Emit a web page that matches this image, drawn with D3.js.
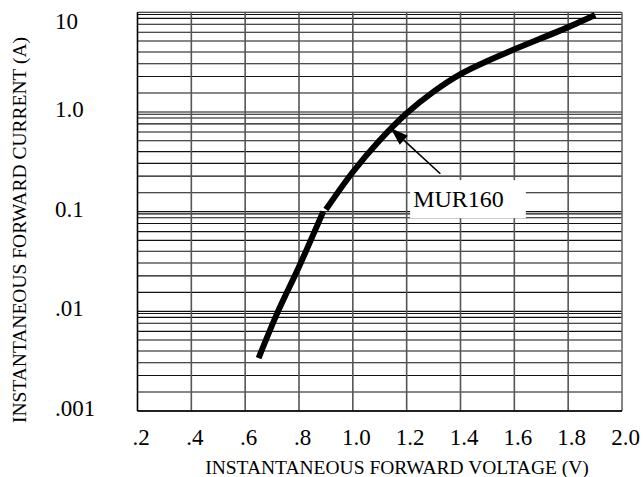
<!DOCTYPE html>
<html>
<head>
<meta charset="utf-8">
<script src="https://cdn.jsdelivr.net/npm/d3@7"></script>
<style>
body { margin: 0; background: #fff; }
text { font-family: "Liberation Serif", "Times New Roman", serif; fill: #000; }
</style>
</head>
<body>
<script>
// size of the page
var width = 643,
    height = 477;

// x ticks (volts) and the labels printed under them
var voltTicks = [0.2, 0.4, 0.6, 0.8, 1.0, 1.2, 1.4, 1.6, 1.8, 2.0];
var voltLabels = [".2", ".4", ".6", ".8", "1.0", "1.2", "1.4", "1.6", "1.8", "2.0"];

// y decades (amps) and their labels
var ampTicks = [10, 1, 0.1, 0.01, 0.001];
var ampLabels = ["10", "1.0", "0.1", ".01", ".001"];
// the rulings inside every decade, as they sit on the printed sheet
var decadeStarts = [0.001, 0.01, 0.1, 1];
var minorSteps = [1.55, 2.27, 3.05, 4.0, 5.15, 6.3, 7.6, 8.7, 9.5];

// MUR160 forward curve (two pieces, kink near 0.1 A)
var lowV = [0.65, 0.72, 0.80, 0.89];
var lowI = [0.0034, 0.0097, 0.028, 0.10];
var highV = [0.90, 1.0, 1.1, 1.2, 1.3, 1.4, 1.5, 1.6, 1.8, 1.9];
var highI = [0.105, 0.25, 0.52, 0.97, 1.6, 2.4, 3.25, 4.25, 7.1, 9.4];

// callout
var partName = "MUR160";
var arrowTip = [1.14, 0.69],
    arrowTail = [1.325, 0.24],
    labelAt = [1.224, 0.111];

var svg = d3.select("body").append("svg")
    .attr("width", width)
    .attr("height", height);

svg.append("rect").attr("width", width).attr("height", height).attr("fill", "#fff");

var x = d3.scaleLinear()
    .domain([0.2, 2.0])
    .range([137.5, 622]);

var y = d3.scaleLog()
    .domain([0.001, 10])
    .range([411, 12.3]);

// horizontal rulings
var hLines = ampTicks.slice();
decadeStarts.forEach(function(d) {
    minorSteps.forEach(function(m) { hLines.push(d * m); });
});

svg.append("g")
  .selectAll("line")
  .data(hLines)
  .enter().append("line")
    .attr("x1", x(0.2))
    .attr("x2", x(2.0))
    .attr("y1", function(d) { return y(d); })
    .attr("y2", function(d) { return y(d); })
    .attr("stroke", "#111")
    .attr("stroke-width", 1.1);

// vertical rulings
svg.append("g")
  .selectAll("line")
  .data(voltTicks.slice(1, -1))
  .enter().append("line")
    .attr("x1", function(d) { return x(d); })
    .attr("x2", function(d) { return x(d); })
    .attr("y1", y(10))
    .attr("y2", y(0.001))
    .attr("stroke", "#555")
    .attr("stroke-width", 1.6);

// frame
svg.append("line")
    .attr("x1", x(0.2)).attr("x2", x(0.2))
    .attr("y1", y(10)).attr("y2", y(0.001))
    .attr("stroke", "#000").attr("stroke-width", 1.6);
svg.append("line")
    .attr("x1", x(2.0)).attr("x2", x(2.0))
    .attr("y1", y(10)).attr("y2", y(0.001))
    .attr("stroke", "#666").attr("stroke-width", 1.6);
svg.append("line")
    .attr("x1", x(0.2)).attr("x2", x(2.0))
    .attr("y1", y(0.001)).attr("y2", y(0.001))
    .attr("stroke", "#000").attr("stroke-width", 1.6);

// x tick labels
var xAxis = svg.append("g")
    .attr("transform", "translate(3," + y(0.001) + ")")
    .call(d3.axisBottom(x)
        .tickValues(voltTicks)
        .tickFormat(function(d, i) { return voltLabels[i]; })
        .tickSize(0)
        .tickPadding(18));
xAxis.select(".domain").remove();
xAxis.selectAll("text")
    .attr("font-family", "Liberation Serif, serif")
    .attr("font-size", 23)
    .attr("fill", "#000");

// y tick labels, left aligned like on the sheet
svg.append("g")
  .selectAll("text")
  .data(ampTicks)
  .enter().append("text")
    .attr("x", 55)
    .attr("y", function(d) { return Math.max(y(d) + 5, 29); })
    .attr("font-size", 23)
    .text(function(d, i) { return ampLabels[i]; });

// axis titles
svg.append("text")
    .attr("x", 397)
    .attr("y", 474)
    .attr("text-anchor", "middle")
    .attr("font-size", 19.5)
    .text("INSTANTANEOUS FORWARD VOLTAGE (V)");

svg.append("text")
    .attr("transform", "translate(26,230) rotate(-90)")
    .attr("text-anchor", "middle")
    .attr("font-size", 19.5)
    .text("INSTANTANEOUS FORWARD CURRENT (A)");

// callout label on a white patch
var tag = svg.append("g");
var box = tag.append("rect").attr("fill", "#fff");
var tagText = tag.append("text")
    .attr("x", x(labelAt[0]))
    .attr("y", y(labelAt[1]))
    .attr("font-size", 24)
    .text(partName);
var bb = tagText.node().getBBox();
box.attr("x", bb.x - 3)
    .attr("y", bb.y - 6)
    .attr("width", bb.width + 25)
    .attr("height", bb.height + 12);

// the curve
var line = d3.line()
    .x(function(d) { return x(d[0]); })
    .y(function(d) { return y(d[1]); })
    .curve(d3.curveCatmullRom.alpha(0.5));

svg.append("path")
    .datum(lowV.map(function(v, i) { return [v, lowI[i]]; }))
    .attr("d", line)
    .attr("fill", "none")
    .attr("stroke", "#000")
    .attr("stroke-width", 6);

svg.append("path")
    .datum(highV.map(function(v, i) { return [v, highI[i]]; }))
    .attr("d", line)
    .attr("fill", "none")
    .attr("stroke", "#000")
    .attr("stroke-width", 6);

// arrow to the curve
var tx = x(arrowTip[0]), ty = y(arrowTip[1]);
var sx = x(arrowTail[0]), sy = y(arrowTail[1]);
var len = Math.hypot(tx - sx, ty - sy);
var ux = (tx - sx) / len, uy = (ty - sy) / len;
var headL = 18, headW = 6;
var bx = tx - ux * headL, by = ty - uy * headL;

svg.append("line")
    .attr("x1", sx).attr("y1", sy)
    .attr("x2", bx).attr("y2", by)
    .attr("stroke", "#000")
    .attr("stroke-width", 1.6);

svg.append("path")
    .attr("d", "M" + tx + "," + ty +
        "L" + (bx - uy * headW) + "," + (by + ux * headW) +
        "L" + (bx + uy * headW) + "," + (by - ux * headW) + "Z")
    .attr("fill", "#000");
</script>
</body>
</html>
